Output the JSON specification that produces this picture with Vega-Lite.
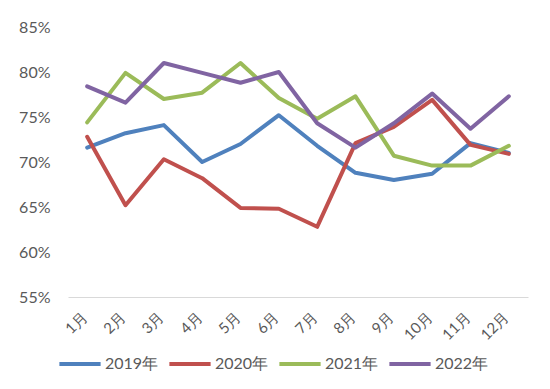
{
  "$schema": "https://vega.github.io/schema/vega-lite/v6.json",
  "width": 460,
  "height": 270,
  "autosize": {"type": "none"},
  "padding": {"left": 68, "top": 27, "right": 22, "bottom": 92},
  "background": "white",
  "config": {
    "view": {"stroke": null},
    "font": "Lato"
  },
  "data": {
    "values": [
      {"m": "1月", "s": "2019年", "v": 0.716},
      {"m": "2月", "s": "2019年", "v": 0.732},
      {"m": "3月", "s": "2019年", "v": 0.741},
      {"m": "4月", "s": "2019年", "v": 0.700},
      {"m": "5月", "s": "2019年", "v": 0.720},
      {"m": "6月", "s": "2019年", "v": 0.752},
      {"m": "7月", "s": "2019年", "v": 0.718},
      {"m": "8月", "s": "2019年", "v": 0.688},
      {"m": "9月", "s": "2019年", "v": 0.680},
      {"m": "10月", "s": "2019年", "v": 0.687},
      {"m": "11月", "s": "2019年", "v": 0.721},
      {"m": "12月", "s": "2019年", "v": 0.710},
      {"m": "1月", "s": "2020年", "v": 0.728},
      {"m": "2月", "s": "2020年", "v": 0.652},
      {"m": "3月", "s": "2020年", "v": 0.703},
      {"m": "4月", "s": "2020年", "v": 0.682},
      {"m": "5月", "s": "2020年", "v": 0.649},
      {"m": "6月", "s": "2020年", "v": 0.648},
      {"m": "7月", "s": "2020年", "v": 0.628},
      {"m": "8月", "s": "2020年", "v": 0.721},
      {"m": "9月", "s": "2020年", "v": 0.739},
      {"m": "10月", "s": "2020年", "v": 0.769},
      {"m": "11月", "s": "2020年", "v": 0.719},
      {"m": "12月", "s": "2020年", "v": 0.709},
      {"m": "1月", "s": "2021年", "v": 0.744},
      {"m": "2月", "s": "2021年", "v": 0.799},
      {"m": "3月", "s": "2021年", "v": 0.770},
      {"m": "4月", "s": "2021年", "v": 0.777},
      {"m": "5月", "s": "2021年", "v": 0.810},
      {"m": "6月", "s": "2021年", "v": 0.771},
      {"m": "7月", "s": "2021年", "v": 0.748},
      {"m": "8月", "s": "2021年", "v": 0.773},
      {"m": "9月", "s": "2021年", "v": 0.707},
      {"m": "10月", "s": "2021年", "v": 0.696},
      {"m": "11月", "s": "2021年", "v": 0.696},
      {"m": "12月", "s": "2021年", "v": 0.718},
      {"m": "1月", "s": "2022年", "v": 0.784},
      {"m": "2月", "s": "2022年", "v": 0.766},
      {"m": "3月", "s": "2022年", "v": 0.810},
      {"m": "4月", "s": "2022年", "v": 0.799},
      {"m": "5月", "s": "2022年", "v": 0.788},
      {"m": "6月", "s": "2022年", "v": 0.800},
      {"m": "7月", "s": "2022年", "v": 0.743},
      {"m": "8月", "s": "2022年", "v": 0.716},
      {"m": "9月", "s": "2022年", "v": 0.743},
      {"m": "10月", "s": "2022年", "v": 0.776},
      {"m": "11月", "s": "2022年", "v": 0.737},
      {"m": "12月", "s": "2022年", "v": 0.773}
    ]
  },
  "mark": {"type": "line", "strokeWidth": 4, "strokeJoin": "round", "strokeCap": "round"},
  "encoding": {
    "x": {
      "field": "m",
      "type": "ordinal",
      "sort": null,
      "scale": {"type": "point", "padding": 0.5},
      "axis": {
        "title": null,
        "labelAngle": -45,
        "labelAlign": "right",
        "labelBaseline": "middle",
        "labelFontSize": 15,
        "labelColor": "#595959",
        "labelPadding": 17,
        "labelOffset": -3,
        "ticks": false,
        "grid": false,
        "domainColor": "#D9D9D9",
        "domainWidth": 1
      }
    },
    "y": {
      "field": "v",
      "type": "quantitative",
      "scale": {"domain": [0.55, 0.85], "nice": false, "zero": false},
      "axis": {
        "title": null,
        "format": ".0%",
        "values": [0.55, 0.6, 0.65, 0.7, 0.75, 0.8, 0.85],
        "labelFontSize": 16,
        "labelColor": "#595959",
        "labelPadding": 18,
        "ticks": false,
        "domain": false,
        "grid": false
      }
    },
    "color": {
      "field": "s",
      "type": "nominal",
      "scale": {
        "domain": ["2019年", "2020年", "2021年", "2022年"],
        "range": ["#4F81BD", "#C0504D", "#9BBB59", "#8064A2"]
      },
      "legend": {
        "title": null,
        "orient": "none",
        "direction": "horizontal",
        "legendX": -11,
        "legendY": 314,
        "symbolType": "stroke",
        "symbolSize": 1700,
        "symbolStrokeWidth": 4,
        "labelFontSize": 16,
        "labelColor": "#595959",
        "labelOffset": 2,
        "columnPadding": 2
      }
    }
  }
}
